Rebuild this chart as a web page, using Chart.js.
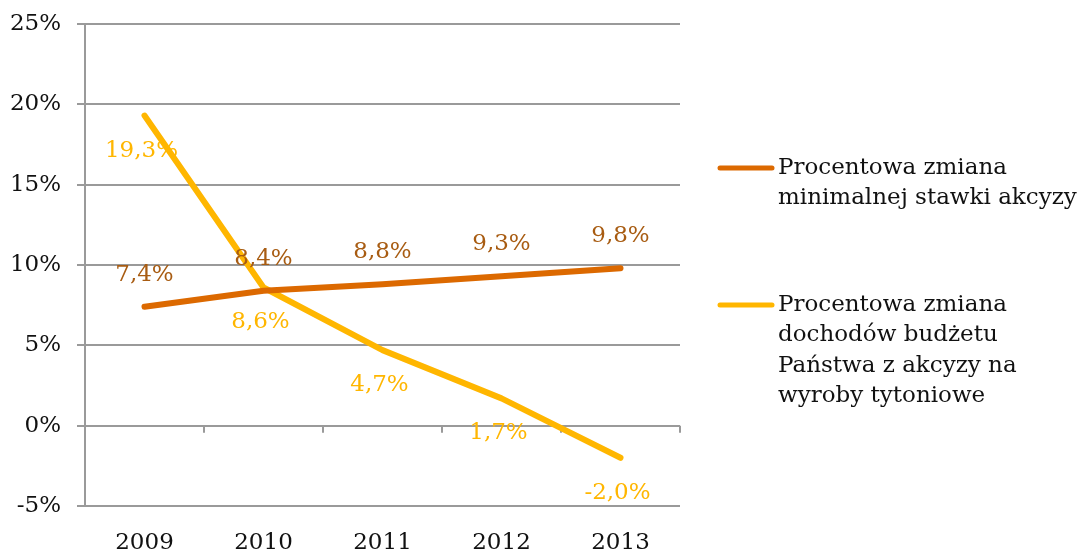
<!DOCTYPE html>
<html><head><meta charset="utf-8">
<script src="https://cdn.jsdelivr.net/npm/chart.js@4/dist/chart.umd.min.js"></script>
<style>
html,body{margin:0;padding:0;overflow:hidden;background:#fff;width:1082px;height:549px}
#wrap{position:relative;width:1082px;height:575px}
</style></head>
<body><div id="wrap"><canvas id="c"></canvas></div>
<script>
const years = ['2009', '2010', '2011', '2012', '2013'];
const minRateChange = [7.4, 8.4, 8.8, 9.3, 9.8];
const revenueChange = [19.3, 8.6, 4.7, 1.7, -2.0];
const seriesNames = [
  ['Procentowa zmiana', 'minimalnej stawki akcyzy'],
  ['Procentowa zmiana', 'dochodów budżetu', 'Państwa z akcyzy na', 'wyroby tytoniowe']
];
const yTickValues = [-5, 0, 5, 10, 15, 20, 25];

const FONT = '"DejaVu Serif", Georgia, serif';
const FS = 23;
const ORANGE = '#DC6900', ORANGE_LBL = '#A85C12', YELLOW = '#FFB600', GRID = '#9A9A9A';
const fmt = v => v.toFixed(1).replace('.', ',') + '%';

const labelPlugin = {
  id: 'labels',
  afterDatasetsDraw(chart) {
    const ctx = chart.ctx;
    ctx.save();
    ctx.font = FS + 'px ' + FONT;
    ctx.textAlign = 'center';
    ctx.textBaseline = 'middle';
    chart.data.datasets.forEach((ds, i) => {
      const meta = chart.getDatasetMeta(i);
      meta.data.forEach((pt, j) => {
        ctx.fillStyle = ds.lblColor;
        ctx.fillText(fmt(ds.data[j]), pt.x + ds.lblDx, pt.y + ds.lblDy);
      });
    });
    ctx.restore();
  }
};

const axisTicksPlugin = {
  id: 'zeroTicks',
  beforeDatasetsDraw(chart) {
    const ctx = chart.ctx, x = chart.scales.x, y = chart.scales.y;
    const y0 = y.getPixelForValue(0);
    const n = chart.data.labels.length;
    ctx.save();
    ctx.strokeStyle = GRID; ctx.lineWidth = 2;
    for (let k = 1; k <= n; k++) {
      const xx = k < n ? (x.getPixelForValue(k - 1) + x.getPixelForValue(k)) / 2 : x.right;
      ctx.beginPath(); ctx.moveTo(xx, y0); ctx.lineTo(xx, y0 + 7); ctx.stroke();
    }
    ctx.restore();
  }
};

const legendPlugin = {
  id: 'sideLegend',
  afterDraw(chart) {
    const ctx = chart.ctx, ca = chart.chartArea;
    const tops = [168, 305];
    ctx.save();
    ctx.font = FS + 'px ' + FONT;
    ctx.textAlign = 'left';
    ctx.textBaseline = 'middle';
    chart.data.datasets.forEach((ds, i) => {
      const yy = tops[i];
      ctx.strokeStyle = ds.borderColor; ctx.lineWidth = 5; ctx.lineCap = 'round';
      ctx.beginPath(); ctx.moveTo(ca.right + 40, yy); ctx.lineTo(ca.right + 92, yy); ctx.stroke();
      ctx.fillStyle = '#111';
      ds.label.forEach((line, l) => ctx.fillText(line, ca.right + 98, yy + l * 30.5));
    });
    ctx.restore();
  }
};

new Chart(document.getElementById('c'), {
  type: 'line',
  data: {
    labels: years,
    datasets: [
      { label: seriesNames[0], data: minRateChange, borderColor: ORANGE, backgroundColor: ORANGE,
        borderWidth: 6, pointRadius: 0, borderCapStyle: 'round', borderJoinStyle: 'round',
        lblColor: ORANGE_LBL, lblDx: 0, lblDy: -32 },
      { label: seriesNames[1], data: revenueChange, borderColor: YELLOW, backgroundColor: YELLOW,
        borderWidth: 6, pointRadius: 0, borderCapStyle: 'round', borderJoinStyle: 'round',
        lblColor: YELLOW, lblDx: -3, lblDy: 35 }
    ]
  },
  options: {
    responsive: true, maintainAspectRatio: false, animation: false,
    layout: { padding: { top: 24, right: 402, left: 0, bottom: 0 } },
    plugins: { legend: { display: false }, tooltip: { enabled: false } },
    scales: {
      x: {
        offset: true,
        grid: { display: false },
        border: { display: false },
        ticks: { color: '#111', font: { family: FONT, size: FS }, padding: 15, maxRotation: 0 },
        afterFit(s) { s.height = 69; s.paddingLeft = 0; s.paddingRight = 0; }
      },
      y: {
        min: -5, max: 25,
        afterBuildTicks(s) { s.ticks = yTickValues.map(v => ({ value: v })); },
        grid: { color: GRID, lineWidth: 2, tickLength: 8 },
        border: { color: GRID, width: 2 },
        ticks: { color: '#111', font: { family: FONT, size: FS }, padding: 16, callback: v => v + '%' },
        afterFit(s) { s.width = 85; s.paddingTop = 0; s.paddingBottom = 0; }
      }
    }
  },
  plugins: [axisTicksPlugin, labelPlugin, legendPlugin]
});
</script>
</body></html>
